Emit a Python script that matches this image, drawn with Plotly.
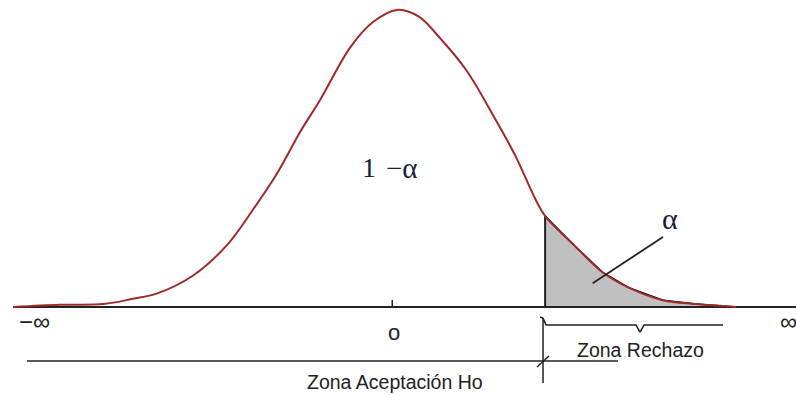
import plotly.graph_objects as go

# Standardised density curve (z, density) of the test statistic
z_vals = [-4.04, -3.55, -3.09, -2.78, -2.53, -2.15, -1.79, -1.52, -1.26, -1.02,
          -0.81, -0.49, -0.25, 0.00, 0.23, 0.44, 0.73, 1.04, 1.25, 1.46,
          1.56, 1.88, 2.17, 2.44, 2.80, 3.15, 3.57]
density = [0.000, 0.003, 0.004, 0.011, 0.018, 0.042, 0.083, 0.130, 0.180, 0.235,
           0.278, 0.349, 0.383, 0.399, 0.390, 0.363, 0.318, 0.251, 0.202, 0.144,
           0.122, 0.081, 0.046, 0.026, 0.009, 0.004, 0.000]

z_crit = 1.56          # critical value separating acceptance / rejection
z_axis_end = 4.20      # right end of the horizontal axis

labels = {
    "one": "1",
    "minus_alpha": "\u2212\u03b1",
    "alpha": "\u03b1",
    "minus_inf": "\u2212\u221e",
    "plus_inf": "\u221e",
    "origin": "o",
    "reject": "Zona Rechazo",
    "accept": "Zona Aceptaci\u00f3n Ho",
}

CURVE = "#9e2a2b"
INK = "#222222"

fig = go.Figure()

# rejection region (upper tail beyond the critical value)
tail_z = [z for z in z_vals if z >= z_crit]
tail_d = [d for z, d in zip(z_vals, density) if z >= z_crit]
fig.add_trace(go.Scatter(
    x=[z_crit] + tail_z + [tail_z[-1], z_crit],
    y=[0] + tail_d + [0, 0],
    fill="toself", fillcolor="#c0c0c0", mode="lines",
    line=dict(color="#000000", width=1.5), line_shape="linear",
    hoverinfo="skip"))

# horizontal axis
fig.add_trace(go.Scatter(x=[z_vals[0], z_axis_end], y=[0, 0], mode="lines",
                         line=dict(color=INK, width=2), hoverinfo="skip"))

# critical value line
crit_height = density[z_vals.index(z_crit)]
fig.add_trace(go.Scatter(x=[z_crit, z_crit], y=[0, crit_height], mode="lines",
                         line=dict(color=INK, width=1.8), hoverinfo="skip"))

# density curve
fig.add_trace(go.Scatter(x=z_vals, y=density, mode="lines", line_shape="spline",
                         line=dict(color=CURVE, width=2), hoverinfo="skip"))

def seg(xs, ys, w=1.5):
    fig.add_trace(go.Scatter(x=xs, y=ys, mode="lines",
                             line=dict(color=INK, width=w), hoverinfo="skip"))

# tick at the mean
seg([-0.05, -0.05], [0, 0.0094])
# pointer to alpha
seg([2.80, 2.06], [0.094, 0.032], 1.8)
# brace over the rejection region
seg([1.505, 1.535, 1.552, 1.568, 2.516, 2.558, 2.600, 3.432],
    [-0.0134, -0.0150, -0.0190, -0.0242, -0.0242, -0.0336, -0.0242, -0.0242], 1.5)
# boundary marker below the critical value
seg([1.537, 1.537], [-0.0148, -0.102], 1.5)
# acceptance region line and its end mark
seg([-3.895, 2.326], [-0.0725, -0.0725], 1.5)
seg([1.474, 1.600], [-0.0806, -0.0658], 1.5)

def label(x, y, text, size, family="Liberation Sans, Arial, sans-serif", color=INK):
    fig.add_annotation(x=x, y=y, text=text, showarrow=False, xref="x", yref="y",
                       xanchor="center", yanchor="middle",
                       font=dict(family=family, size=size, color=color))

serif = "Liberation Serif, Times New Roman, serif"
label(-0.30, 0.188, labels["one"], 28, serif, "#1c1c3a")
label(0.05, 0.187, labels["minus_alpha"], 29, serif, "#1c1c3a")
label(2.87, 0.1195, labels["alpha"], 30, serif, "#1c1c3a")
label(-3.82, -0.020, labels["minus_inf"], 24)
label(4.12, -0.020, labels["plus_inf"], 24)
label(-0.03, -0.034, labels["origin"], 22)
label(2.558, -0.0577, labels["reject"], 19.5)
label(-0.02, -0.1007, labels["accept"], 19.5)

fig.update_layout(
    width=796, height=395,
    margin=dict(l=0, r=0, t=0, b=0),
    paper_bgcolor="white", plot_bgcolor="white",
    showlegend=False,
    xaxis=dict(range=[-4.179, 4.2], visible=False, fixedrange=True),
    yaxis=dict(range=[-0.1182, 0.4123], visible=False, fixedrange=True),
)

fig.write_html("out.html")
